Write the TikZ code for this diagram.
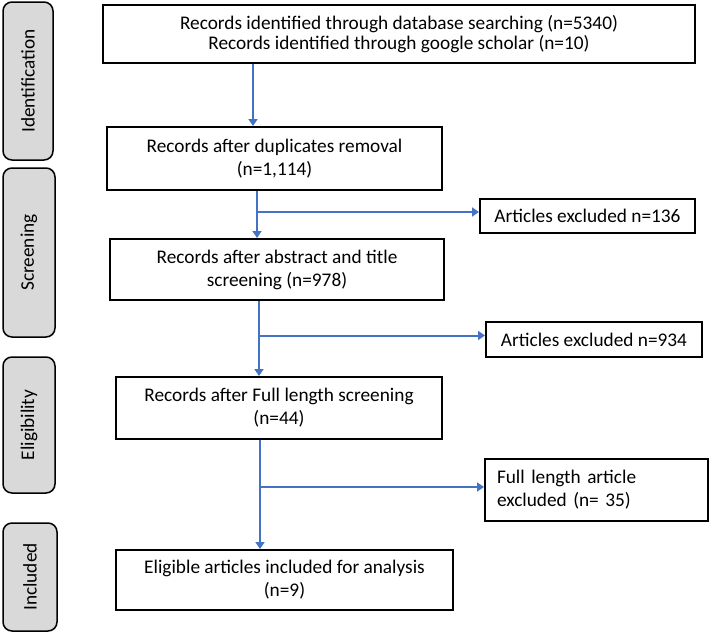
\documentclass[tikz,border=0pt]{standalone}
\usepackage{fontspec}
\setmainfont{Carlito}
\usepackage{tikz}
\usetikzlibrary{positioning,calc,arrows.meta}

\definecolor{flowblue}{HTML}{4472C4}
\definecolor{stagegray}{HTML}{D9D9D9}

\tikzset{
  box/.style={draw=black, line width=2pt, fill=white, shape=rectangle, align=center, inner sep=0pt},
  stage/.style={draw=black, line width=1.5pt, fill=stagegray, shape=rectangle, rounded corners=9pt, rotate=90, inner sep=0pt},
  flow/.style={-{Triangle[width=9pt,length=7pt]}, flowblue, line width=2pt}
}

\begin{document}
\begin{tikzpicture}[x=1pt, y=-1pt, font=\fontsize{19.3}{23}\selectfont]
\useasboundingbox (0,0) rectangle (712,632);

\path (28, 81) node[stage, minimum width=158pt, minimum height=50pt] (ident) {Identification};
\path (29, 252.5) node[stage, minimum width=169pt, minimum height=52pt] (screen) {Screening};
\path (29, 425) node[stage, minimum width=136pt, minimum height=52pt] (elig) {Eligibility};
\path (30, 577) node[stage, minimum width=108pt, minimum height=54pt] (incl) {Included};

\path (399, 34) node[box, minimum width=592pt, minimum height=58pt, font=\fontsize{19.3}{19.5}\selectfont] (records) {Records identified through database searching (n=5340)\\Records identified through google scholar (n=10)};
\path (274.5, 158.5) node[box, minimum width=335pt, minimum height=63pt] (dupl) {Records after duplicates removal\\(n=1,114)};
\path (277, 269.5) node[box, minimum width=334pt, minimum height=61pt] (abstr) {Records after abstract and title\\screening (n=978)};
\path (279, 408) node[box, minimum width=326pt, minimum height=62pt] (fulllen) {Records after Full length screening\\(n=44)};
\path (284.5, 580) node[box, minimum width=337pt, minimum height=60pt] (final) {Eligible articles included for analysis\\(n=9)};

\path (587.5, 216) node[box, minimum width=215pt, minimum height=34pt] (excl1) {Articles excluded n=136};
\path (594, 339.5) node[box, minimum width=216pt, minimum height=35pt] (excl2) {Articles excluded n=934};
\path (596.5, 490) node[box, text width=199pt, inner xsep=12pt, minimum height=62pt, align=left] (excl3) {Full length article\\excluded (n= 35)};

\coordinate (in1) at ([yshift=4pt]excl1.west);
\coordinate (in2) at ([yshift=4pt]excl2.west);
\coordinate (in3) at ([yshift=3pt]excl3.west);
\coordinate (down1) at ([xshift=147pt]dupl.north west);
\coordinate (down2) at ([xshift=148pt]abstr.north west);
\coordinate (down3) at ([xshift=144pt]fulllen.north west);
\coordinate (down4) at ([xshift=145pt]final.north west);

\draw[flow] (down1 |- records.south) -- (down1);
\draw[flow] (down2 |- dupl.south) -- (down2);
\draw[flow] (down3 |- abstr.south) -- (down3);
\draw[flow] (down4 |- fulllen.south) -- (down4);

\draw[flow] (down2 |- in1) -- (in1);
\draw[flow] (down3 |- in2) -- (in2);
\draw[flow] (down4 |- in3) -- (in3);
\end{tikzpicture}
\end{document}
